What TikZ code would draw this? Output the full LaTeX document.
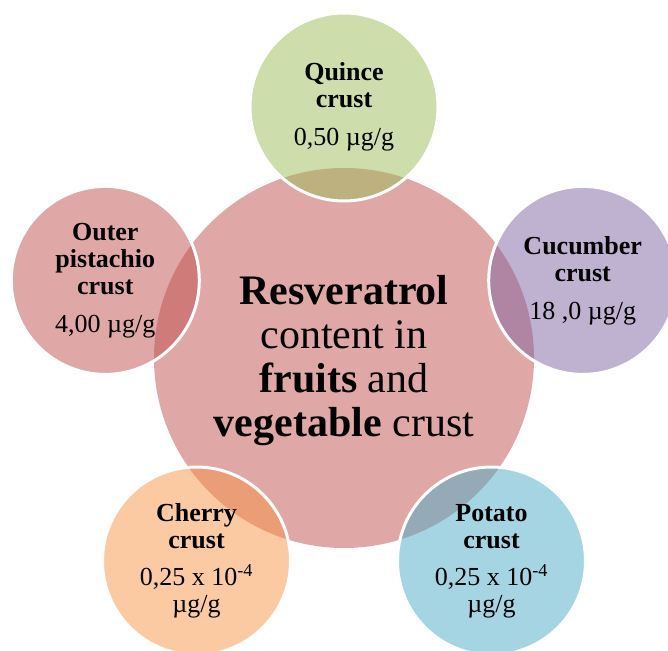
\documentclass[tikz,border=0pt]{standalone}
\usepackage{fontspec}
\setmainfont{Liberation Serif}
\definecolor{cred}{HTML}{C0504D}
\definecolor{cgreen}{HTML}{9BBB59}
\definecolor{cpurple}{HTML}{8064A2}
\definecolor{caqua}{HTML}{4BACC6}
\definecolor{corange}{HTML}{F79646}
\tikzset{
  hub/.style={circle, minimum size=380pt, inner sep=0pt, fill=cred!50!white},
  hubtext/.style={align=center, inner sep=0pt, font=\fontsize{42}{44}\selectfont},
  petal/.style={circle, minimum size=188pt, inner sep=0pt, fill=#1, fill opacity=0.5,
    draw=white, draw opacity=1, line width=3pt, text opacity=1, align=center,
    font=\fontsize{26}{27}\selectfont},
}
\begin{document}
\begin{tikzpicture}[x=1pt,y=-1pt]
\clip (0,0) rectangle (668,650);
\node[hub] (hub) at (344,358) {};
\node[hubtext] (hubtxt) at (344,361) {\textbf{Resveratrol}\\content in\\\textbf{fruits} and\\\textbf{vegetable} crust};
\node[petal=cgreen] (quince) at (344,107) {\textbf{Quince}\\\textbf{crust}\\[11pt]0,50 µg/g};
\node[petal=cpurple] (cucumber) at (582.7,280.4) {\textbf{Cucumber}\\\textbf{crust}\\[11pt]18 ,0 µg/g};
\node[petal=caqua] (potato) at (491.5,561) {\textbf{Potato}\\\textbf{crust}\\[10pt]0,25 x 10\textsuperscript{-4}\\µg/g};
\node[petal=corange] (cherry) at (196.5,561) {\textbf{Cherry}\\\textbf{crust}\\[10pt]0,25 x 10\textsuperscript{-4}\\µg/g};
\node[petal=cred] (pistachio) at (105.3,280.4) {\textbf{Outer}\\\textbf{pistachio}\\\textbf{crust}\\[11pt]4,00 µg/g};
\end{tikzpicture}
\end{document}
